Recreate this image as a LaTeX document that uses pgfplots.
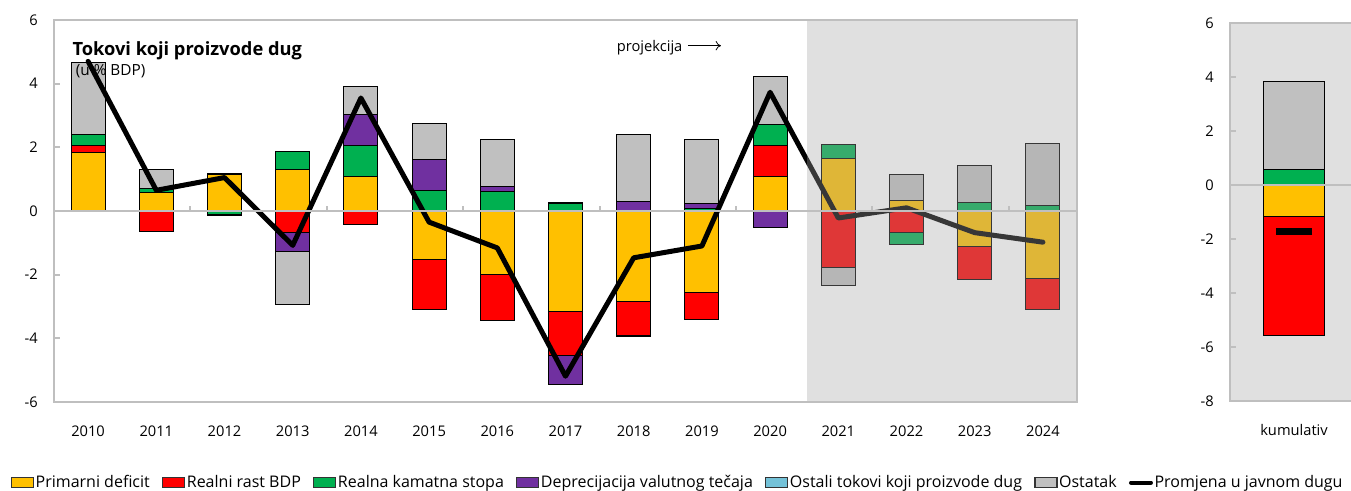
\documentclass[border=0pt]{standalone}
\usepackage{fontspec}
\setmainfont{Open Sans}
\usepackage{pgfplots}
\pgfplotsset{compat=1.18}
\usepackage{pgfplotstable}
\usetikzlibrary{arrows.meta}

\definecolor{cY}{HTML}{FFC000}
\definecolor{cR}{HTML}{FF0000}
\definecolor{cG}{HTML}{00B050}
\definecolor{cP}{HTML}{7030A0}
\definecolor{cB}{HTML}{74C2D8}
\definecolor{cS}{HTML}{C0C0C0}
\definecolor{axgray}{HTML}{BFBFBF}
\definecolor{bggray}{HTML}{E0E0E0}
\definecolor{ovl}{RGB}{164,164,164}

\pgfplotstableread{
year yn rn gn pn sn yp rp gp pp sp line
2010 0 0 0 0 0 1.83 0.24 0.32 0 2.29 4.70
2011 0 -0.66 0 0 0 0.58 0 0.12 0 0.61 0.65
2012 0 0 -0.10 0 -0.04 1.16 0 0 0.02 0 1.05
2013 0 -0.68 0 -0.59 -1.66 1.29 0 0.57 0 0 -1.08
2014 0 -0.41 0 0 0 1.07 0 0.98 0.97 0.90 3.55
2015 -1.53 -1.55 0 0 0 0 0 0.64 0.97 1.13 -0.35
2016 -1.99 -1.45 0 0 0 0 0 0.60 0.16 1.50 -1.16
2017 -3.15 -1.40 0 -0.90 0 0 0 0.23 0 0.04 -5.19
2018 -2.83 -1.08 -0.03 0 0 0 0 0 0.31 2.08 -1.47
2019 -2.55 -0.85 0 0 0 0 0 0.07 0.15 2.01 -1.10
2020 0 0 0 -0.53 0 1.07 0.99 0.65 0 1.52 3.73
2021 0 -1.77 0 0 -0.56 1.65 0 0.45 0 0 -0.22
2022 0 -0.68 -0.37 0 0 0.34 0 0 0 0.81 0.10
2023 -1.12 -1.04 0 0 0 0 0 0.26 0 1.16 -0.68
2024 -2.12 -0.96 0 0 0 0 0 0.16 0 1.96 -0.98
}\maindata

\pgfplotsset{
  common/.style={
    scale only axis,
    anchor=south west,
    axis line style={axgray, line width=2pt},
    tick align=inside,
    major tick length=4.5pt,
    xtick style={draw=none},
    ytick style={axgray, line width=1.5pt},
    ytick pos=left,
    tick label style={font=\fontsize{11}{13}\selectfont},
    /pgf/number format/assume math mode=true,
    yticklabel style={anchor=east, inner xsep=0pt, xshift=-12pt},
    xticklabel style={anchor=north, inner ysep=0pt, yshift=-17.5pt},
  },
  barst/.style={draw=black, line width=0.75pt, forget plot},
}

\begin{document}
\begin{tikzpicture}
\useasboundingbox (0,0) rectangle (1013.25pt,368.25pt);

% ---------- main panel: bars (negative parts stack separately)
\begin{axis}[common,
  at={(40.5pt,66.75pt)}, width=767.25pt, height=286.5pt,
  xmin=-0.5, xmax=14.5, ymin=-6, ymax=6,
  ybar stacked, bar width=0.5,
  xtick={0,...,14},
  xticklabels={2010,2011,2012,2013,2014,2015,2016,2017,2018,2019,2020,2021,2022,2023,2024},
  ytick={-6,-4,...,6},
]
\addplot[barst, fill=cY] table[x expr=\coordindex, y=yn] {\maindata};
\addplot[barst, fill=cR] table[x expr=\coordindex, y=rn] {\maindata};
\addplot[barst, fill=cG] table[x expr=\coordindex, y=gn] {\maindata};
\addplot[barst, fill=cP] table[x expr=\coordindex, y=pn] {\maindata};
\addplot[barst, fill=cS] table[x expr=\coordindex, y=sn] {\maindata};
\addplot[barst, fill=cY] table[x expr=\coordindex, y=yp] {\maindata};
\addplot[barst, fill=cR] table[x expr=\coordindex, y=rp] {\maindata};
\addplot[barst, fill=cG] table[x expr=\coordindex, y=gp] {\maindata};
\addplot[barst, fill=cP] table[x expr=\coordindex, y=pp] {\maindata};
\addplot[barst, fill=cS] table[x expr=\coordindex, y=sp] {\maindata};
\end{axis}

% ---------- main panel: line, projection shading, legend
\begin{axis}[common,
  at={(40.5pt,66.75pt)}, width=767.25pt, height=286.5pt,
  xmin=-0.5, xmax=14.5, ymin=-6, ymax=6,
  xtick=\empty, ytick=\empty,
  axis on top,
  clip=false,
  legend columns=-1,
  legend style={draw=none, fill=none, at={(0.6095,-0.2110)}, anchor=center,
    font=\fontsize{12}{14}\selectfont,
    nodes={inner xsep=1.2pt, inner ysep=0pt},
    /tikz/every odd column/.append style={column sep=0pt},
    /tikz/every even column/.append style={column sep=8pt}},
]
\addplot[black, line width=3.75pt, line join=round, line cap=round, forget plot]
  table[x expr=\coordindex, y=line] {\maindata};
\fill[ovl, fill opacity=0.34] (axis cs:10.54,-6) rectangle (axis cs:14.5,6);
\draw[axgray, line width=2pt] (axis cs:-0.5,0) -- (axis cs:14.5,0);
\pgfplotsinvokeforeach{1.5,3.5,5.5,7.5,9.5,11.5,13.5}{
  \draw[axgray, line width=1.5pt] (axis cs:#1,0) -- (axis cs:#1,0.16);
}
\node[anchor=base west, inner sep=0pt, font=\fontsize{13.7}{16}\selectfont\bfseries]
  at (rel axis cs:0.0179,0.9065) {Tokovi koji proizvode dug};
\node[anchor=base west, inner sep=0pt, font=\fontsize{11.5}{13}\selectfont]
  at (rel axis cs:0.0212,0.854) {(u \% BDP)};
\node[anchor=base west, inner sep=0pt, font=\fontsize{11}{13}\selectfont]
  at (rel axis cs:0.5500,0.917) {projekcija};
\draw[-{To[length=4pt,width=7pt]}, line width=0.6pt] (rel axis cs:0.6195,0.9327) -- (rel axis cs:0.6520,0.9327);

\addlegendimage{legend image code/.code={\draw[fill=cY, draw=black!80, line width=0.9pt] (0pt,-3.75pt) rectangle (16.5pt,3.75pt);}}
\addlegendimage{legend image code/.code={\draw[fill=cR, draw=black!80, line width=0.9pt] (0pt,-3.75pt) rectangle (16.5pt,3.75pt);}}
\addlegendimage{legend image code/.code={\draw[fill=cG, draw=black!80, line width=0.9pt] (0pt,-3.75pt) rectangle (16.5pt,3.75pt);}}
\addlegendimage{legend image code/.code={\draw[fill=cP, draw=black!80, line width=0.9pt] (0pt,-3.75pt) rectangle (16.5pt,3.75pt);}}
\addlegendimage{legend image code/.code={\draw[fill=cB, draw=black!80, line width=0.9pt] (0pt,-3.75pt) rectangle (16.5pt,3.75pt);}}
\addlegendimage{legend image code/.code={\draw[fill=cS, draw=black!80, line width=0.9pt] (0pt,-3.75pt) rectangle (16.5pt,3.75pt);}}
\addlegendimage{legend image code/.code={\draw[black, line width=3pt, line cap=round] (1.5pt,0pt) -- (16.5pt,0pt);}}
\legend{Primarni deficit, Realni rast BDP, Realna kamatna stopa, Deprecijacija valutnog tečaja, Ostali tokovi koji proizvode dug, Ostatak, Promjena u javnom dugu}
\end{axis}

% ---------- cumulative panel
\begin{axis}[common,
  at={(922.5pt,67.5pt)}, width=96pt, height=283.5pt,
  xmin=-0.5, xmax=0.5, ymin=-8, ymax=6,
  ybar stacked, bar width=0.484,
  axis background/.style={fill=bggray},
  xtick={0}, xticklabels={kumulativ},
  ytick={-8,-6,...,6},
]
\addplot[barst, fill=cY] coordinates {(0,-1.17)};
\addplot[barst, fill=cR] coordinates {(0,-4.41)};
\addplot[barst, fill=cG] coordinates {(0,0.59)};
\addplot[barst, fill=cS] coordinates {(0,3.24)};
\end{axis}

\begin{axis}[
  scale only axis, anchor=south west,
  at={(922.5pt,67.5pt)}, width=96pt, height=283.5pt,
  xmin=-0.5, xmax=0.5, ymin=-8, ymax=6,
  hide axis,
]
\draw[axgray, line width=2pt] (axis cs:-0.5,0) -- (axis cs:0.5,0);
\addplot[only marks, mark=-, mark size=13.5pt, mark options={line width=5.5pt, black}] coordinates {(0,-1.73)};
\end{axis}
\end{tikzpicture}
\end{document}
